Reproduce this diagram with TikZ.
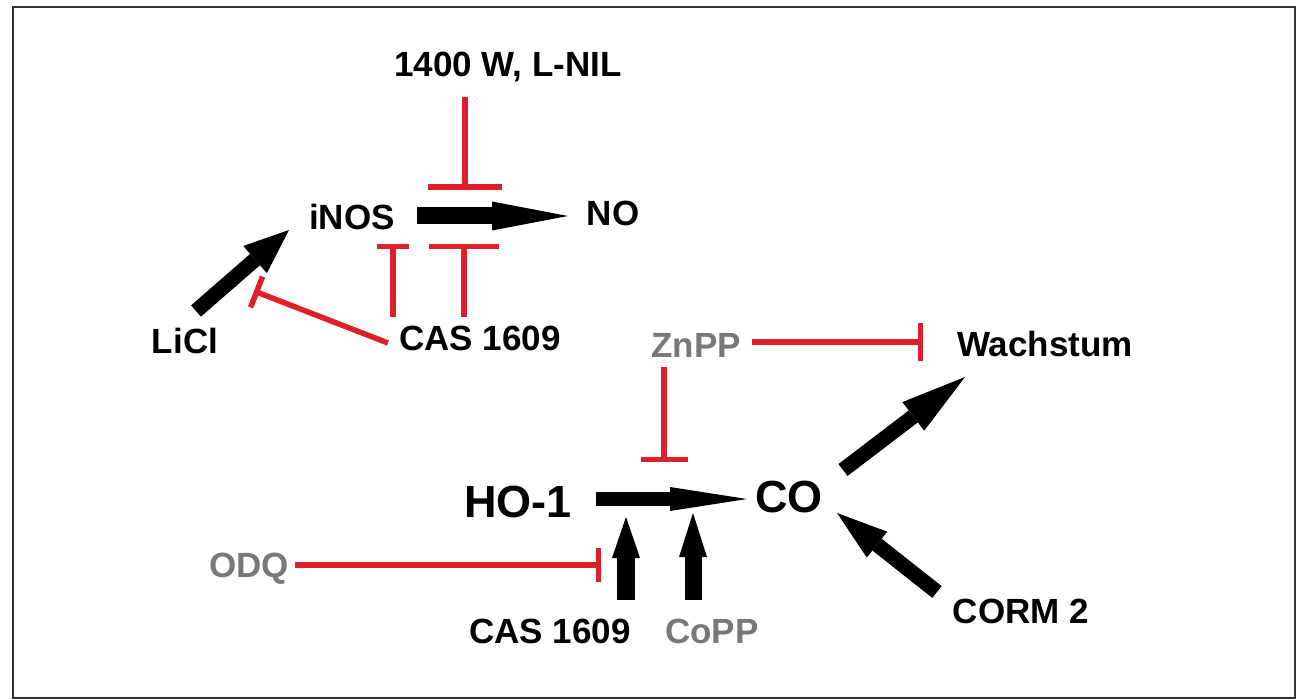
\documentclass[tikz,border=0pt]{standalone}
\usepackage{fontspec}
\setmainfont{Liberation Sans}
\usetikzlibrary{arrows.meta,calc}
\definecolor{inhred}{RGB}{222,32,42}
\definecolor{txtgray}{RGB}{120,120,120}
\tikzset{
  lbl/.style={font=\fontsize{35}{42}\selectfont\bfseries, inner sep=0pt, anchor=base},
  biglbl/.style={font=\fontsize{45}{54}\selectfont\bfseries, inner sep=0pt, anchor=base},
  grey/.style={text=txtgray},
  inh/.style={draw=inhred, line width=5.5pt},
  act/.style={draw=black, line width=#1},
}
\begin{document}
\begin{tikzpicture}[x=1pt,y=-1pt]
\useasboundingbox (0,0) rectangle (1300,700);
\fill[white] (0,0) rectangle (1300,700);
\draw[line width=2pt, black!80] (13,7) rectangle (1295,698);

% nodes
\node[lbl] (lnil) at (508,77) {1400 W, L-NIL};
\node[lbl] (inos) at (352,230) {iNOS};
\node[lbl] (no) at (613,226) {NO};
\node[lbl] (licl) at (185,353) {LiCl};
\node[lbl] (cas1) at (480,350) {CAS 1609};
\node[lbl,grey] (znpp) at (696,357) {ZnPP};
\node[lbl] (wach) at (1045,356) {Wachstum};
\node[biglbl] (ho) at (518,517) {HO-1};
\node[biglbl] (co) at (789,512) {CO};
\node[lbl,grey] (odq) at (249,577) {ODQ};
\node[lbl] (cas2) at (550,643) {CAS 1609};
\node[lbl,grey] (copp) at (712,643) {CoPP};
\node[lbl] (corm) at (1021,623) {CORM 2};

% target points on arrows
\coordinate (onNO) at (465,190);
\coordinate (onNO2) at (464,244);
\coordinate (onLi) at (254,291);
\coordinate (onCO) at (664,462);
\coordinate (onCO2) at (601,565);
\coordinate (onCOa) at (626,517);
\coordinate (onCOb) at (693,513);

% activating arrows
\draw[act=17pt, -{Triangle[length=76pt,width=29pt,line width'=0pt]}]
  ($(inos.base)+(65,-14)$) -- ($(no.base)+(-45,-10)$);
\draw[act=15pt, -{Triangle[length=45pt,width=36pt,line width'=0pt]}]
  ($(licl.base)+(11,-42)$) -- ($(inos.base)+(-63,0)$);
\draw[act=14pt, -{Triangle[length=77pt,width=24pt,line width'=0pt]}]
  ($(ho.base)+(78,-18)$) -- ($(co.base)+(-42,-13)$);
\draw[act=18pt, -{Triangle[length=41pt,width=28pt,line width'=0pt]}]
  ($(cas2.base)+(76,-43)$) -- (onCOa);
\draw[act=17pt, -{Triangle[length=44pt,width=28pt,line width'=0pt]}]
  ($(copp.base)+(-19,-43)$) -- (onCOb);
\draw[act=15pt, -{Triangle[length=65pt,width=36pt,line width'=0pt]}]
  ($(co.base)+(54,-42)$) -- ($(wach.base)+(-80,21)$);
\draw[act=15pt, -{Triangle[length=51pt,width=33pt,line width'=0pt]}]
  ($(corm.base)+(-84,-31)$) -- ($(co.base)+(48,1)$);

% inhibitions
\draw[inh, -{Bar[width=74pt]}] ($(lnil.base)+(-43,20)$) -- (onNO);
\draw[inh, -{Bar[width=32pt]}] ($(cas1.base)+(-87,-33)$) -- ($(inos.base)+(41,14)$);
\draw[inh, -{Bar[width=70pt]}] ($(cas1.base)+(-16,-33)$) -- (onNO2);
\draw[inh, -{Bar[width=33pt]}] ($(cas1.base)+(-92,-7)$) -- (onLi);
\draw[inh, -{Bar[width=37pt]}] ($(znpp.base)+(56,-15)$) -- ($(wach.base)+(-122,-14)$);
\draw[inh, -{Bar[width=47pt]}] ($(znpp.base)+(-32,10)$) -- (onCO);
\draw[inh, -{Bar[width=34pt]}] ($(odq.base)+(46,-12)$) -- (onCO2);
\end{tikzpicture}
\end{document}
